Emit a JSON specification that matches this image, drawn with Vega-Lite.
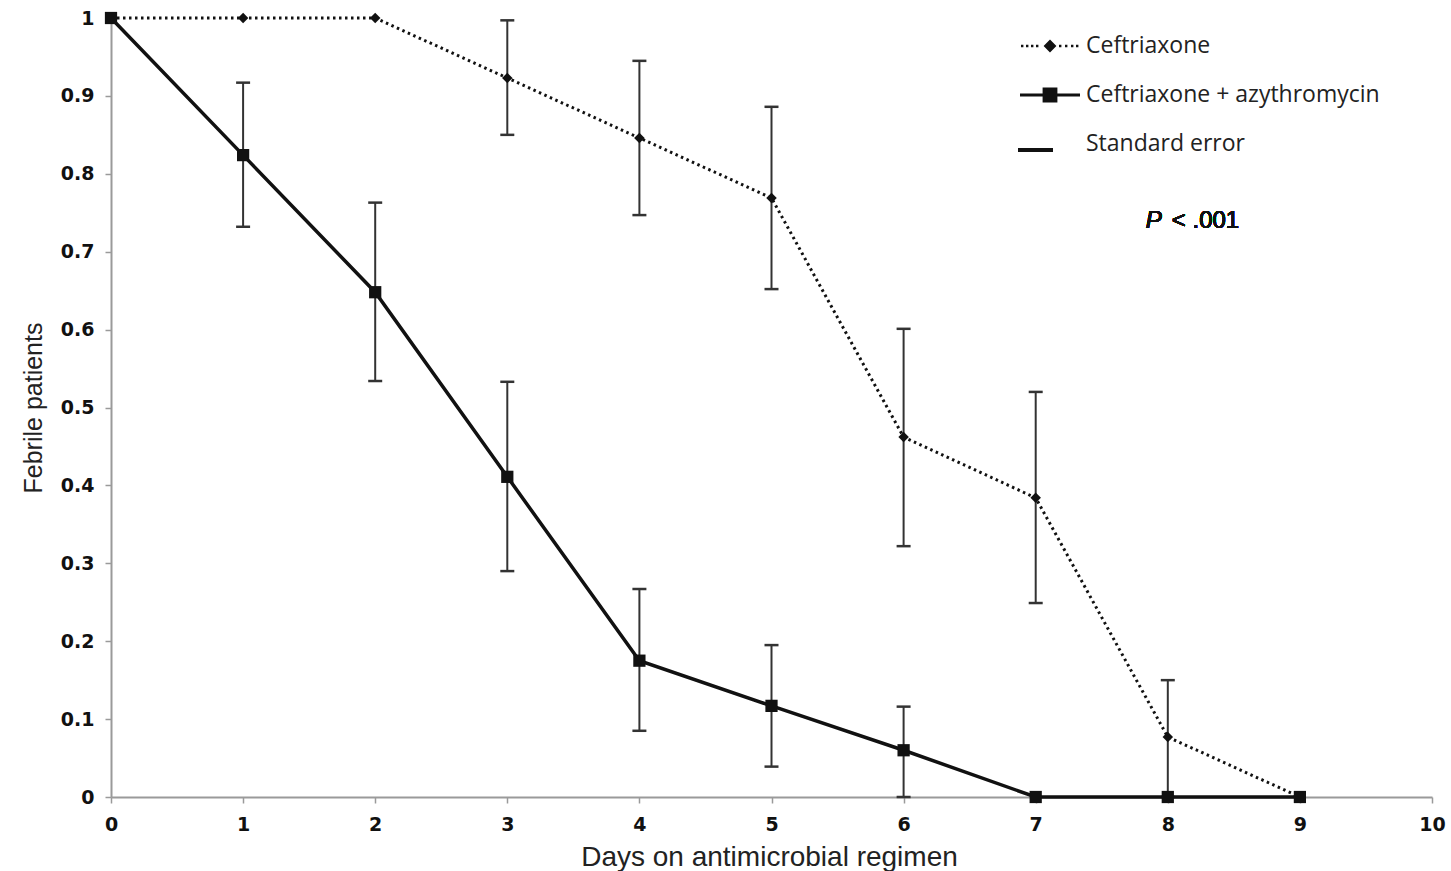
{
  "$schema": "https://vega.github.io/schema/vega-lite/v6.json",
  "autosize": {"type": "none"},
  "width": 1321,
  "height": 779,
  "padding": {"left": 111, "top": 18, "right": 19, "bottom": 74},
  "background": "white",
  "config": {
    "view": {"stroke": null},
    "axis": {
      "grid": false,
      "labelFont": "DejaVu Sans",
      "labelFontWeight": "bold",
      "labelFontSize": 19,
      "labelColor": "#111",
      "domainColor": "#9a9a9a",
      "domainWidth": 2,
      "tickColor": "#9a9a9a",
      "tickWidth": 1.5,
      "tickSize": 6,
      "titleFont": "Liberation Sans",
      "titleFontWeight": "normal",
      "titleColor": "#222"
    }
  },
  "data": {
    "values": [
      {"day": 0, "series": "Ceftriaxone", "value": 1, "lo": null, "hi": null},
      {"day": 1, "series": "Ceftriaxone", "value": 1, "lo": null, "hi": null},
      {"day": 2, "series": "Ceftriaxone", "value": 1, "lo": null, "hi": null},
      {"day": 3, "series": "Ceftriaxone", "value": 0.923, "lo": 0.85, "hi": 0.997},
      {"day": 4, "series": "Ceftriaxone", "value": 0.846, "lo": 0.747, "hi": 0.945},
      {"day": 5, "series": "Ceftriaxone", "value": 0.769, "lo": 0.652, "hi": 0.886},
      {"day": 6, "series": "Ceftriaxone", "value": 0.462, "lo": 0.322, "hi": 0.601},
      {"day": 7, "series": "Ceftriaxone", "value": 0.384, "lo": 0.249, "hi": 0.52},
      {"day": 8, "series": "Ceftriaxone", "value": 0.077, "lo": 0, "hi": 0.15},
      {"day": 9, "series": "Ceftriaxone", "value": 0, "lo": null, "hi": null},
      {"day": 0, "series": "Ceftriaxone + azythromycin", "value": 1, "lo": null, "hi": null},
      {"day": 1, "series": "Ceftriaxone + azythromycin", "value": 0.824, "lo": 0.732, "hi": 0.917},
      {"day": 2, "series": "Ceftriaxone + azythromycin", "value": 0.648, "lo": 0.534, "hi": 0.763},
      {"day": 3, "series": "Ceftriaxone + azythromycin", "value": 0.411, "lo": 0.29, "hi": 0.533},
      {"day": 4, "series": "Ceftriaxone + azythromycin", "value": 0.175, "lo": 0.085, "hi": 0.267},
      {"day": 5, "series": "Ceftriaxone + azythromycin", "value": 0.117, "lo": 0.039, "hi": 0.195},
      {"day": 6, "series": "Ceftriaxone + azythromycin", "value": 0.06, "lo": 0, "hi": 0.116},
      {"day": 7, "series": "Ceftriaxone + azythromycin", "value": 0, "lo": null, "hi": null},
      {"day": 8, "series": "Ceftriaxone + azythromycin", "value": 0, "lo": null, "hi": null},
      {"day": 9, "series": "Ceftriaxone + azythromycin", "value": 0, "lo": null, "hi": null}
    ]
  },
  "encoding": {
    "x": {
      "field": "day", "type": "quantitative",
      "scale": {"domain": [0, 10], "nice": false, "zero": false},
      "axis": {
        "title": "Days on antimicrobial regimen",
        "values": [0, 1, 2, 3, 4, 5, 6, 7, 8, 9, 10],
        "format": "d",
        "labelFlush": false,
        "labelPadding": 12,
        "titleFontSize": 28,
        "titleX": 658,
        "titleY": 60,
        "titleBaseline": "middle",
        "titleAlign": "center"
      }
    }
  },
  "layer": [
    {
      "mark": {"type": "rule", "color": "#333", "strokeWidth": 2},
      "encoding": {
        "y": {
          "field": "lo", "type": "quantitative",
          "scale": {"domain": [0, 1], "nice": false},
          "axis": {
            "title": "Febrile patients",
            "values": [0, 0.1, 0.2, 0.3, 0.4, 0.5, 0.6, 0.7, 0.8, 0.9, 1],
            "format": "~g",
            "labelFlush": false,
            "labelPadding": 11,
            "titleFontSize": 25,
            "titleAngle": -90,
            "titleX": -78,
            "titleY": 389.5,
            "titleBaseline": "middle",
            "titleAlign": "center"
          }
        },
        "y2": {"field": "hi"}
      }
    },
    {
      "mark": {"type": "tick", "orient": "horizontal", "color": "#333", "size": 14, "thickness": 2.5, "opacity": 1},
      "encoding": {"y": {"field": "lo", "type": "quantitative"}}
    },
    {
      "mark": {"type": "tick", "orient": "horizontal", "color": "#333", "size": 14, "thickness": 2.5, "opacity": 1},
      "encoding": {"y": {"field": "hi", "type": "quantitative"}}
    },
    {
      "transform": [{"filter": "datum.series == 'Ceftriaxone'"}],
      "mark": {"type": "line", "color": "#111", "strokeWidth": 3, "strokeDash": [2.5, 3.5]},
      "encoding": {"y": {"field": "value", "type": "quantitative"}}
    },
    {
      "transform": [{"filter": "datum.series == 'Ceftriaxone'"}],
      "mark": {"type": "point", "shape": "diamond", "filled": true, "color": "#111", "size": 110, "opacity": 1},
      "encoding": {"y": {"field": "value", "type": "quantitative"}}
    },
    {
      "transform": [{"filter": "datum.series == 'Ceftriaxone + azythromycin'"}],
      "mark": {"type": "line", "color": "#111", "strokeWidth": 3.5},
      "encoding": {"y": {"field": "value", "type": "quantitative"}}
    },
    {
      "transform": [{"filter": "datum.series == 'Ceftriaxone + azythromycin'"}],
      "mark": {"type": "point", "shape": "square", "filled": true, "color": "#111", "size": 150, "opacity": 1},
      "encoding": {"y": {"field": "value", "type": "quantitative"}}
    },
    {
      "data": {"values": []},
      "mark": {"type": "point", "filled": true, "color": "#111", "opacity": 1},
      "encoding": {
        "x": {"field": "day", "type": "quantitative"},
        "y": {"field": "value", "type": "quantitative"},
        "shape": {
          "field": "series", "type": "nominal",
          "scale": {
            "domain": ["Ceftriaxone", "Ceftriaxone + azythromycin", "Standard error"],
            "range": [
              "M-1.45,-0.06h0.12v0.12h-0.12Z M-1.2,-0.06h0.12v0.12h-0.12Z M-0.95,-0.06h0.12v0.12h-0.12Z M-0.7,-0.06h0.12v0.12h-0.12Z M0,-0.32L0.32,0L0,0.32L-0.32,0Z M0.45,-0.06h0.12v0.12h-0.12Z M0.75,-0.06h0.12v0.12h-0.12Z M1.05,-0.06h0.12v0.12h-0.12Z M1.3,-0.06h0.12v0.12h-0.12Z",
              "M-1.5,-0.08H1.5V0.08H-1.5Z M-0.37,-0.37H0.37V0.37H-0.37Z",
              "M-1.6,0.2H0.15V0.4H-1.6Z"
            ]
          },
          "legend": {
            "title": null,
            "orient": "none",
            "legendX": 919,
            "legendY": 8,
            "padding": 0,
            "symbolSize": 1600,
            "symbolStrokeWidth": 0,
            "symbolFillColor": "#111",
            "symbolOpacity": 1,
            "labelOffset": 16,
            "labelFont": "Open Sans",
            "labelFontSize": 23,
            "labelColor": "#222",
            "labelLimit": 400,
            "rowPadding": 17
          }
        }
      }
    },
    {
      "mark": {"type": "text", "text": "P", "font": "Liberation Sans", "fontStyle": "italic", "fontSize": 24, "align": "right", "baseline": "middle", "dx": -6, "color": "#111"},
      "encoding": {"x": {"datum": 8.0}, "y": {"datum": 0.739}}
    },
    {
      "mark": {"type": "text", "text": "< .001", "font": "Liberation Sans", "fontSize": 24, "align": "left", "baseline": "middle", "dx": 4, "color": "#111"},
      "encoding": {"x": {"datum": 8.0}, "y": {"datum": 0.739}}
    }
  ]
}
